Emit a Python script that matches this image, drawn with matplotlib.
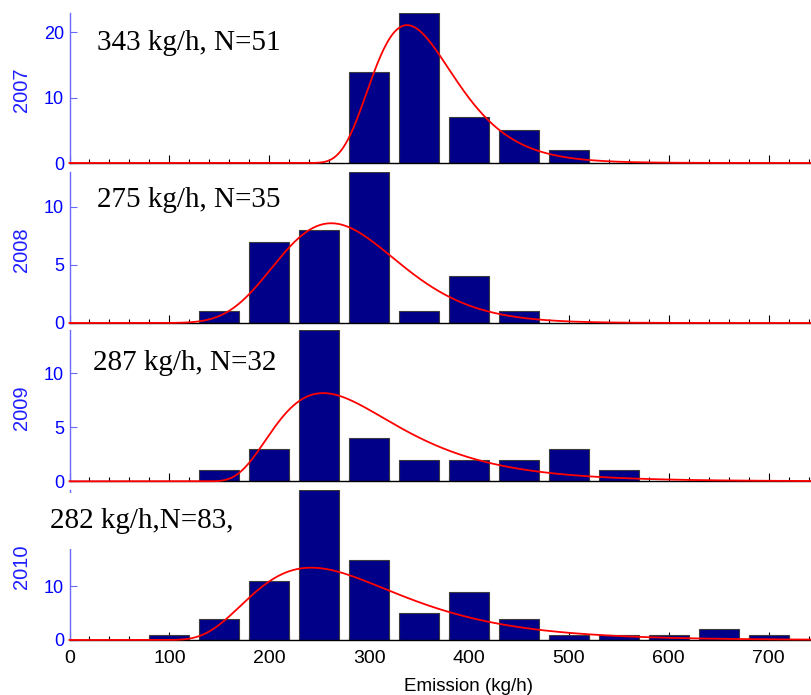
import numpy as np
import matplotlib
import matplotlib.pyplot as plt
from matplotlib.ticker import FixedLocator, MultipleLocator

matplotlib.use("Agg")

plt.rcParams['font.family'] = ['Liberation Sans', 'DejaVu Sans']

# histogram bin centres (kg/h), shared by all years
bin_centers = [100, 150, 200, 250, 300, 350, 400, 450, 500, 550, 600, 650, 700]

years = ["2007", "2008", "2009", "2010"]
counts_2007 = [0, 0, 0, 0, 14, 23, 7, 5, 2, 0, 0, 0, 0]
counts_2008 = [0, 1, 7, 8, 13, 1, 4, 1, 0, 0, 0, 0, 0]
counts_2009 = [0, 1, 3, 14, 4, 2, 2, 2, 3, 1, 0, 0, 0]
counts_2010 = [1, 4, 11, 28, 15, 5, 9, 4, 1, 1, 1, 2, 1]

labels = ["343 kg/h, N=51", "275 kg/h, N=35", "287 kg/h, N=32", "282 kg/h,N=83,"]

# fitted lognormal curves: threshold, mode, log-sigma, peak height
fit_shift = [204, -38, 120, 66]
fit_mode = [338, 262, 254, 242]
fit_sigma = [0.31, 0.203, 0.456, 0.42]
fit_peak = [21.1, 8.57, 8.16, 13.5]

y_top = [23, 13, 14, 28]
y_ticks = [[0, 10, 20], [0, 5, 10], [0, 5, 10], [0, 10]]
x_ticks = [0, 100, 200, 300, 400, 500, 600, 700]
label_x = [27.6, 27.6, 23.6, -19.6]
label_y = [0.752, 0.769, 0.736, 0.747]


def lognormal_curve(x, shift, mode, sigma, peak):
    y = np.zeros_like(x)
    ok = x > shift
    u = np.log(x[ok] - shift)
    um = np.log(mode - shift)
    y[ok] = peak * np.exp(-(u - um) ** 2 / (2 * sigma ** 2))
    return y


all_counts = [counts_2007, counts_2008, counts_2009, counts_2010]

fig = plt.figure(figsize=(8.11, 6.95), dpi=100)

# axes rows in pixels (top, bottom); the x range runs past the right edge
rows = [(12.7, 163), (171.7, 323), (330, 481.3), (490, 640)]
left_px, right_px = 69.5, 868.5
W, H = 811.0, 695.0

xs = np.linspace(0, 800, 1601)
blue = '#0000ff'
spine_blue = '#6a6aff'

for i, (top, bot) in enumerate(rows):
    ax = fig.add_axes([left_px / W, 1 - bot / H, (right_px - left_px) / W, (bot - top) / H])
    counts = all_counts[i]
    cx = [c for c, n in zip(bin_centers, counts) if n > 0]
    cn = [n for n in counts if n > 0]
    ax.bar(cx, cn, width=40, color='#000088', edgecolor='#3c3c3c', linewidth=0.8, zorder=2)

    curve = lognormal_curve(xs, fit_shift[i], fit_mode[i], fit_sigma[i], fit_peak[i])
    ax.plot(xs, curve, color='#ff0000', lw=1.3, zorder=3, clip_on=False)

    ax.set_xlim(0, 800)
    ax.set_ylim(0, y_top[i])
    ax.yaxis.set_major_locator(FixedLocator(y_ticks[i]))
    ax.xaxis.set_major_locator(FixedLocator(x_ticks))
    ax.xaxis.set_minor_locator(MultipleLocator(20))

    for s in ['top', 'right']:
        ax.spines[s].set_visible(False)
    ax.spines['left'].set_color(spine_blue)
    ax.spines['left'].set_linewidth(1.0)
    ax.spines['bottom'].set_color('black')
    ax.spines['bottom'].set_linewidth(1.0)

    ax.tick_params(axis='x', which='major', direction='in', length=6, width=0.8,
                   color='black', labelsize=14, pad=7)
    ax.tick_params(axis='x', which='minor', direction='in', length=3, width=0.8, color='black')
    ax.tick_params(axis='y', direction='in', length=5, width=0.8, color=spine_blue,
                   labelcolor=blue, labelsize=13, pad=4)
    if i < 3:
        ax.tick_params(axis='x', labelbottom=False)
    else:
        ax.set_xlabel("Emission (kg/h)", fontsize=13.5, labelpad=8)

    ax.text(label_x[i], label_y[i], labels[i], transform=ax.get_xaxis_transform(),
            ha='left', va='baseline', fontsize=21, family='Liberation Serif',
            color='black', zorder=6,
            bbox=dict(facecolor='white', edgecolor='none', pad=11))

    fig.text(21 / W, 1 - ((top + bot) / 2 + 2) / H, years[i], rotation=90,
             ha='center', va='center', color='#1e1eff', fontsize=14.5)

fig.savefig("out.png", dpi=100)
